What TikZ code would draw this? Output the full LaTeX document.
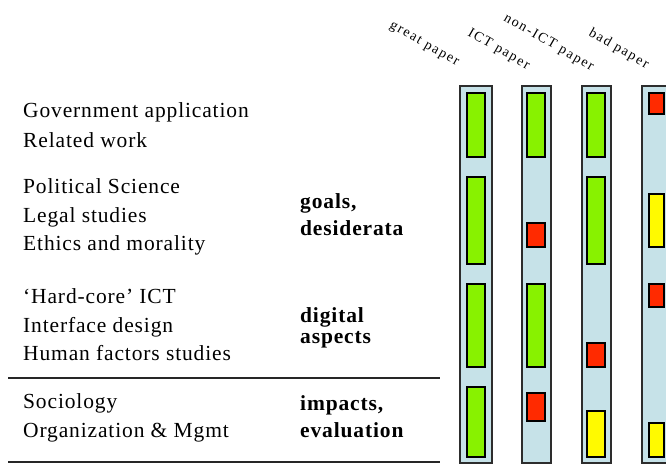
\documentclass[tikz,border=0pt]{standalone}
\usepackage{fontspec}
\setmainfont{Liberation Serif}
\newfontfamily\hdrfont[LetterSpace=12]{Liberation Serif}
\newfontfamily\bodyfont[LetterSpace=4]{Liberation Serif}
\definecolor{colbg}{RGB}{198,226,232}
\definecolor{bargreen}{RGB}{136,242,0}
\definecolor{barred}{RGB}{255,42,0}
\definecolor{baryellow}{RGB}{255,250,0}
\definecolor{edge}{RGB}{45,45,45}
\begin{document}
\begin{tikzpicture}[x=1pt,y=-1pt,
  colbox/.style={draw=edge,line width=1.6pt,fill=colbg},
  gbar/.style={draw=black,line width=1.3pt,fill=bargreen},
  rbar/.style={draw=black,line width=1.3pt,fill=barred},
  ybar/.style={draw=black,line width=1.3pt,fill=baryellow},
  lt/.style={anchor=base west,inner sep=0pt,font=\bodyfont\fontsize{21.5}{24}\selectfont},
  rt/.style={anchor=base west,inner sep=0pt,font=\bodyfont\fontsize{21.5}{24}\selectfont\bfseries},
  hd/.style={anchor=base west,inner sep=0pt,rotate=-30,font=\hdrfont\fontsize{14}{16}\selectfont},
  rule/.style={draw=black!85,line width=1.8pt}]
\useasboundingbox (0,0) rectangle (666,464);
\clip (0,0) rectangle (666,464);
% columns
\path[colbox] (460,86) rectangle (492,463);
\path[colbox] (522,86) rectangle (551,463);
\path[colbox] (582,86) rectangle (611,463);
\path[colbox] (642,86) rectangle (674,463);
% column 1
\path[gbar] (467,93) rectangle (485,157);
\path[gbar] (467,177) rectangle (485,264);
\path[gbar] (467,284) rectangle (485,367);
\path[gbar] (467,387) rectangle (485,457);
% column 2
\path[gbar] (527,93) rectangle (545,157);
\path[rbar] (527,223) rectangle (545,247);
\path[gbar] (527,284) rectangle (545,367);
\path[rbar] (527,393) rectangle (545,421);
% column 3
\path[gbar] (587,93) rectangle (605,157);
\path[gbar] (587,177) rectangle (605,264);
\path[rbar] (587,343) rectangle (605,367);
\path[ybar] (587,411) rectangle (605,457);
% column 4
\path[rbar] (649,93) rectangle (664,114);
\path[ybar] (649,194) rectangle (664,247);
\path[rbar] (649,284) rectangle (664,307);
\path[ybar] (649,423) rectangle (664,457);
% headers
\node[hd] (h1) at (389,27) {great paper};
\node[hd] (h2) at (467,35) {ICT paper};
\node[hd] (h3) at (503,20) {non-ICT paper};
\node[hd] (h4) at (588,35) {bad paper};
% left texts
\node[lt] (t1) at (23,117) {Government application};
\node[lt] (t2) at (23,147) {Related work};
\node[lt] (t3) at (23,193) {Political Science};
\node[lt] (t4) at (23,222) {Legal studies};
\node[lt] (t5) at (23,250) {Ethics and morality};
\node[lt] (t6) at (23,303) {‘Hard-core’ ICT};
\node[lt] (t7) at (23,332) {Interface design};
\node[lt] (t8) at (23,360) {Human factors studies};
\node[lt] (t9) at (23,408) {Sociology};
\node[lt] (t10) at (23,437) {Organization \& Mgmt};
% right labels
\node[rt] (r1) at (300,208) {goals,};
\node[rt] (r2) at (300,235) {desiderata};
\node[rt] (r3) at (300,322) {digital};
\node[rt] (r4) at (300,343) {aspects};
\node[rt] (r5) at (300,410) {impacts,};
\node[rt] (r6) at (300,437) {evaluation};
% rules
\coordinate (l1a) at (8,378); \coordinate (l1b) at (440,378);
\coordinate (l2a) at (8,462); \coordinate (l2b) at (440,462);
\draw[rule] (l1a) -- (l1b);
\draw[rule] (l2a) -- (l2b);
\end{tikzpicture}
\end{document}
